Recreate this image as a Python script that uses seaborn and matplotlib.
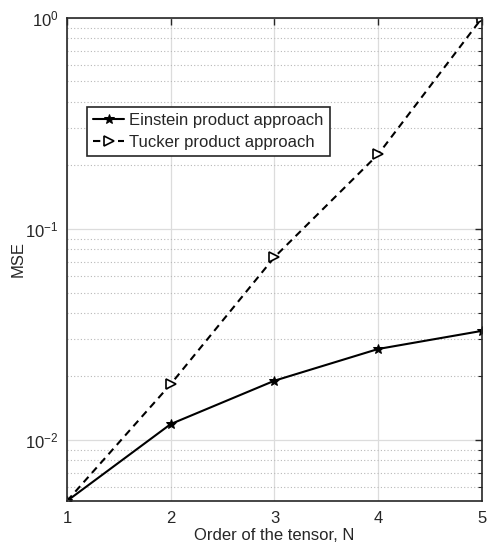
import matplotlib
matplotlib.use("Agg")
import matplotlib.pyplot as plt
import matplotlib.ticker as mticker
import numpy as np
import pandas as pd
import seaborn as sns

# Data: MSE against tensor order
order_n = [1, 2, 3, 4, 5]
mse_einstein = [0.00514, 0.0119, 0.0191, 0.0270, 0.0329]
mse_tucker = [0.00514, 0.0184, 0.0736, 0.226, 1.0]
label_einstein = "Einstein product approach"
label_tucker = "Tucker product approach"

sns.set_theme(style="white")
plt.rcParams["font.family"] = ["Liberation Sans", "DejaVu Sans"]
plt.rcParams["mathtext.fontset"] = "custom"
plt.rcParams["mathtext.rm"] = "Liberation Sans"

df = pd.DataFrame({
    "N": order_n * 2,
    "MSE": mse_einstein + mse_tucker,
    "method": [label_einstein] * len(order_n) + [label_tucker] * len(order_n),
})

fig = plt.figure(figsize=(4.87, 5.48), dpi=100)
ax = fig.add_axes([0.1376, 0.0858, 0.8521, 0.8814])

sns.lineplot(data=df[df.method == label_einstein], x="N", y="MSE", ax=ax,
             color="black", linewidth=1.5, marker="*", markersize=7,
             markerfacecolor="black", markeredgecolor="black",
             label=label_einstein)
sns.lineplot(data=df[df.method == label_tucker], x="N", y="MSE", ax=ax,
             color="black", linewidth=1.5, linestyle=(0, (3.5, 2.5)), marker=">",
             markersize=6.5, markerfacecolor="white", markeredgecolor="black",
             markeredgewidth=1.2, label=label_tucker)

ax.set_yscale("log")
ax.set_xlim(1, 5)
ax.set_ylim(min(mse_einstein), 1.0)
ax.set_xticks(order_n)
ax.yaxis.set_major_locator(mticker.LogLocator(base=10, numticks=10))
ax.yaxis.set_minor_locator(mticker.LogLocator(base=10, subs=np.arange(2, 10), numticks=10))
ax.yaxis.set_minor_formatter(mticker.NullFormatter())

ax.grid(True, which="major", color="#dcdcdc", linewidth=0.9, linestyle="-")
ax.grid(True, which="minor", axis="y", color="#b8b8b8", linewidth=0.8, linestyle=(0, (1, 2)))
ax.set_axisbelow(True)

ax.tick_params(which="both", direction="in", top=True, right=True, colors="#262626",
               labelsize=12, labelcolor="#262626")
ax.tick_params(which="major", length=5, width=1.0)
ax.tick_params(which="minor", length=3, width=0.8)
ax.tick_params(axis="x", which="major", pad=7)
ax.tick_params(axis="y", which="major", pad=6)
for s in ax.spines.values():
    s.set_visible(True)
    s.set_color("#262626")
    s.set_linewidth(1.2)

ax.set_xlabel("Order of the tensor, N", fontsize=12, color="#262626", labelpad=2)
ax.set_ylabel("MSE", fontsize=12, color="#262626", labelpad=0)

leg = ax.legend(loc="upper left", bbox_to_anchor=(0.048, 0.816), fontsize=12,
                frameon=True, fancybox=False, framealpha=1, edgecolor="#262626",
                borderpad=0.35, labelspacing=0.45, handlelength=1.9, handletextpad=0.3,
                borderaxespad=0)
leg.get_frame().set_linewidth(1.2)

fig.savefig("out.png", dpi=100)
